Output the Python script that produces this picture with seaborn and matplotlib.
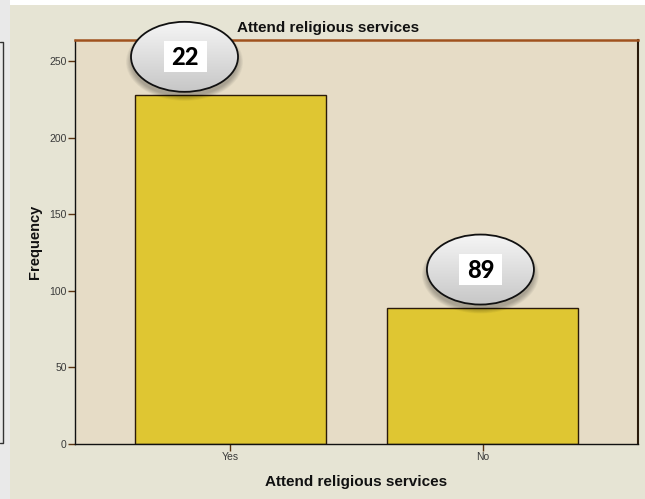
import numpy as np
import pandas as pd
import matplotlib
matplotlib.use("Agg")
import matplotlib.pyplot as plt
from matplotlib.patches import Ellipse, Rectangle
import seaborn as sns

# Frequency table
categories = ["Yes", "No"]
counts = [228, 89]
callout_text = ["22", "89"]
y_ticks = [0, 50, 100, 150, 200, 250]

title = "Attend religious services"
x_title = "Attend religious services"
y_title = "Frequency"

sns.set_style("white")
plt.rcParams["font.family"] = ["Liberation Sans", "DejaVu Sans"]

W, H = 645, 499
fig = plt.figure(figsize=(W / 100, H / 100), dpi=100)
fig.patch.set_facecolor("#e6e4d4")

# background panels in pixel coordinates
bg = fig.add_axes([0, 0, 1, 1], zorder=-5)
bg.set_xlim(0, W)
bg.set_ylim(H, 0)
bg.axis("off")
bg.add_patch(Rectangle((0, 0), W, 5, color="white", lw=0))
bg.add_patch(Rectangle((0, 0), 10, H, color="#e9e9e9", lw=0))
bg.plot([0, 3, 3, 0], [42, 42, 443, 443], color="#333333", lw=1)

df = pd.DataFrame({"cat": categories, "n": counts})

ax = fig.add_axes([75 / W, 1 - 444 / H, (638 - 75) / W, (444 - 40) / H])
ax.set_facecolor("#e6dcc6")
sns.barplot(data=df, x="cat", y="n", order=categories, color="#dfc632",
            saturation=1, width=0.755, edgecolor="#2a1a0a", linewidth=1.0,
            ax=ax)
ax.set_xlim(-0.613, 1.613)
ax.set_ylim(0, 264)
ax.set_yticks(y_ticks)
ax.set_yticklabels([str(v) for v in y_ticks])
ax.tick_params(axis="both", direction="out", length=5, width=1,
               color="#5a3210", labelsize=7.5, labelcolor="#3a3a3a", pad=1,
               left=True, bottom=True)
ax.set_xlabel(x_title, fontsize=11, fontweight="bold", labelpad=9,
              color="#111111")
ax.set_ylabel(y_title, fontsize=10.5, fontweight="bold", labelpad=5,
              color="#111111")
for side in ("left", "bottom"):
    ax.spines[side].set_color("#111111")
    ax.spines[side].set_linewidth(1)
ax.spines["top"].set_color("#a0521e")
ax.spines["top"].set_linewidth(1.8)
ax.spines["right"].set_color("#2a1a0a")
ax.spines["right"].set_linewidth(1.5)

fig.text(328 / W, 1 - 28 / H, title, ha="center", va="center",
         fontsize=11, fontweight="bold", color="#111111")

# callout bubbles, anchored above each bar
ov = fig.add_axes([0, 0, 1, 1], zorder=10)
ov.set_xlim(0, W)
ov.set_ylim(H, 0)
ov.axis("off")
ov.patch.set_alpha(0)

fig.canvas.draw()
offsets = [-0.18, -0.01]
ew, eh = 107, 70
grad = np.linspace(0.96, 0.78, 100)[:, None] * np.ones((1, 10))
for i, (v, txt) in enumerate(zip(counts, callout_text)):
    px, py = ax.transData.transform((i + offsets[i], v + 25))
    cx, cy = px, H - py
    for k in range(8):
        ov.add_patch(Ellipse((cx, cy + 5), ew + 10 - k * 1.5, eh + 8 - k * 1.2,
                             color="black", alpha=0.035, lw=0))
    e = Ellipse((cx, cy), ew, eh, facecolor="none", edgecolor="#111111",
                lw=1.3, zorder=3)
    clip = Ellipse((cx, cy), ew, eh, transform=ov.transData)
    im = ov.imshow(np.dstack([grad] * 3), extent=(cx - ew / 2, cx + ew / 2,
                   cy + eh / 2, cy - eh / 2), aspect="auto", zorder=2)
    im.set_clip_path(clip)
    ov.add_patch(e)
    ov.add_patch(Rectangle((cx - 21, cy - 16), 43, 31, color="white", lw=0,
                           zorder=4))
    ov.text(cx + 0.5, cy + 1, txt, ha="center", va="center", fontsize=17,
            fontweight=900, family=["Lato", "DejaVu Sans"], color="black",
            zorder=5)
ov.set_xlim(0, W)
ov.set_ylim(H, 0)

fig.savefig("out.png", dpi=100)
